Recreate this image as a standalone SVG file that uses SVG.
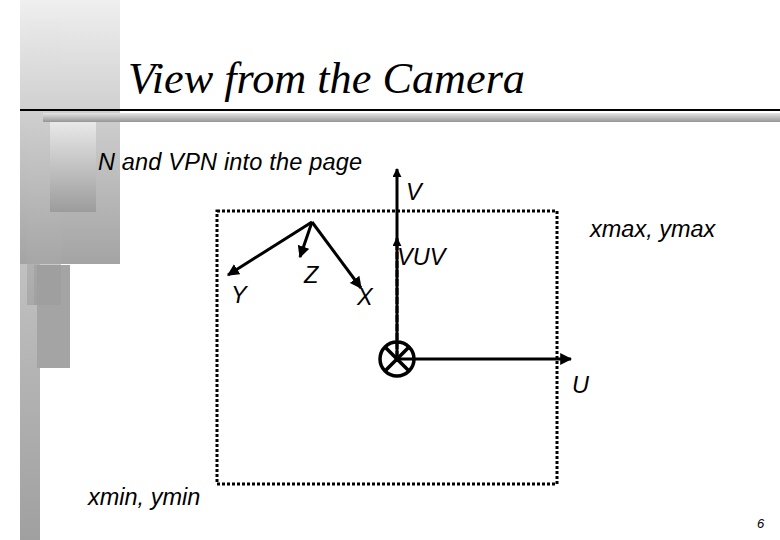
<svg xmlns="http://www.w3.org/2000/svg" width="780" height="540" viewBox="0 0 780 540">
<style>
.lbl{font-family:"Liberation Sans",Arial,sans-serif;font-style:italic;font-size:23.5px;fill:#000}
.ax{stroke:#000;stroke-width:3;fill:none}
</style>
<defs>
<linearGradient id="gv1" x1="0" y1="0" x2="0" y2="1"><stop offset="0" stop-color="#efefef"/><stop offset="1" stop-color="#a4a4a4"/></linearGradient>
<linearGradient id="gv2" x1="0" y1="0" x2="0" y2="1"><stop offset="0" stop-color="#e0e0e0"/><stop offset="1" stop-color="#a0a0a0"/></linearGradient>
<linearGradient id="gv3" x1="0" y1="0" x2="0" y2="1"><stop offset="0" stop-color="#e8e8e8"/><stop offset="1" stop-color="#9c9c9c"/></linearGradient>
<linearGradient id="gbar" x1="0" y1="0" x2="0" y2="1"><stop offset="0" stop-color="#e4e4e4"/><stop offset="1" stop-color="#959595"/></linearGradient>
<marker id="ah" viewBox="0 0 10 10" refX="9" refY="5" markerWidth="4" markerHeight="4" orient="auto" markerUnits="strokeWidth"><path d="M0,0L10,5L0,10z" fill="#000"/></marker>
<marker id="ah2" viewBox="0 0 10 10" refX="9" refY="5" markerWidth="3" markerHeight="3" orient="auto" markerUnits="strokeWidth"><path d="M0,0L10,5L0,10z" fill="#000"/></marker>
</defs>
<g id="decoration">
<rect x="20" y="0" width="20" height="540" fill="url(#gv2)"/>
<rect x="20" y="0" width="100" height="264" fill="url(#gv1)"/>
<rect x="27" y="20" width="34" height="285" fill="url(#gv3)" opacity="0.6"/>
<rect x="37" y="265" width="33" height="103" fill="#a4a4a4"/>
<rect x="34" y="265" width="27" height="40" fill="#999" opacity="0.5"/>
<rect x="50" y="122" width="46" height="90" fill="url(#gv3)"/>
<rect x="43" y="113" width="737" height="9" fill="url(#gbar)"/>
<line x1="20" y1="110" x2="780" y2="110" stroke="#000" stroke-width="2"/>
</g>
<g id="title"><text x="128" y="93" font-family="'Liberation Serif','Times New Roman',serif" font-style="italic" font-size="44" textLength="397" lengthAdjust="spacingAndGlyphs">View from the Camera</text></g>
<g id="note"><text class="lbl" x="98" y="170" font-size="24" textLength="264">N and VPN into the page</text></g>
<g id="window"><rect x="217" y="211" width="340" height="273" fill="none" stroke="#000" stroke-width="3" stroke-dasharray="3 2"/></g>
<g id="connectors">
<line class="ax" x1="397" y1="362" x2="397" y2="169" stroke-width="4" marker-end="url(#ah2)"/>
<line class="ax" x1="397" y1="358" x2="397" y2="238" stroke-width="5" stroke-dasharray="7 2" marker-end="url(#ah2)"/>
<line class="ax" x1="397" y1="359" x2="571" y2="359" marker-end="url(#ah)"/>
<line class="ax" x1="312" y1="222" x2="228" y2="275" marker-end="url(#ah)"/>
<line class="ax" x1="312" y1="222" x2="300" y2="257" marker-end="url(#ah)"/>
<line class="ax" x1="312" y1="222" x2="361" y2="288" marker-end="url(#ah)"/>
</g>
<g id="origin">
<circle cx="397" cy="359" r="17" fill="none" stroke="#000" stroke-width="3.5"/>
<line x1="385" y1="347" x2="409" y2="371" stroke="#000" stroke-width="3.5"/>
<line x1="409" y1="347" x2="385" y2="371" stroke="#000" stroke-width="3.5"/>
</g>
<g id="labels">
<text class="lbl" x="406" y="200">V</text>
<text class="lbl" x="397" y="265">VUV</text>
<text class="lbl" x="590" y="237">xmax, ymax</text>
<text class="lbl" x="231" y="303">Y</text>
<text class="lbl" x="304" y="283">Z</text>
<text class="lbl" x="357" y="305">X</text>
<text class="lbl" x="572" y="393">U</text>
<text class="lbl" x="88" y="505">xmin, ymin</text>
<text x="757" y="528" font-family="'Liberation Sans',Arial,sans-serif" font-style="italic" font-size="13">6</text>
</g>
</svg>
